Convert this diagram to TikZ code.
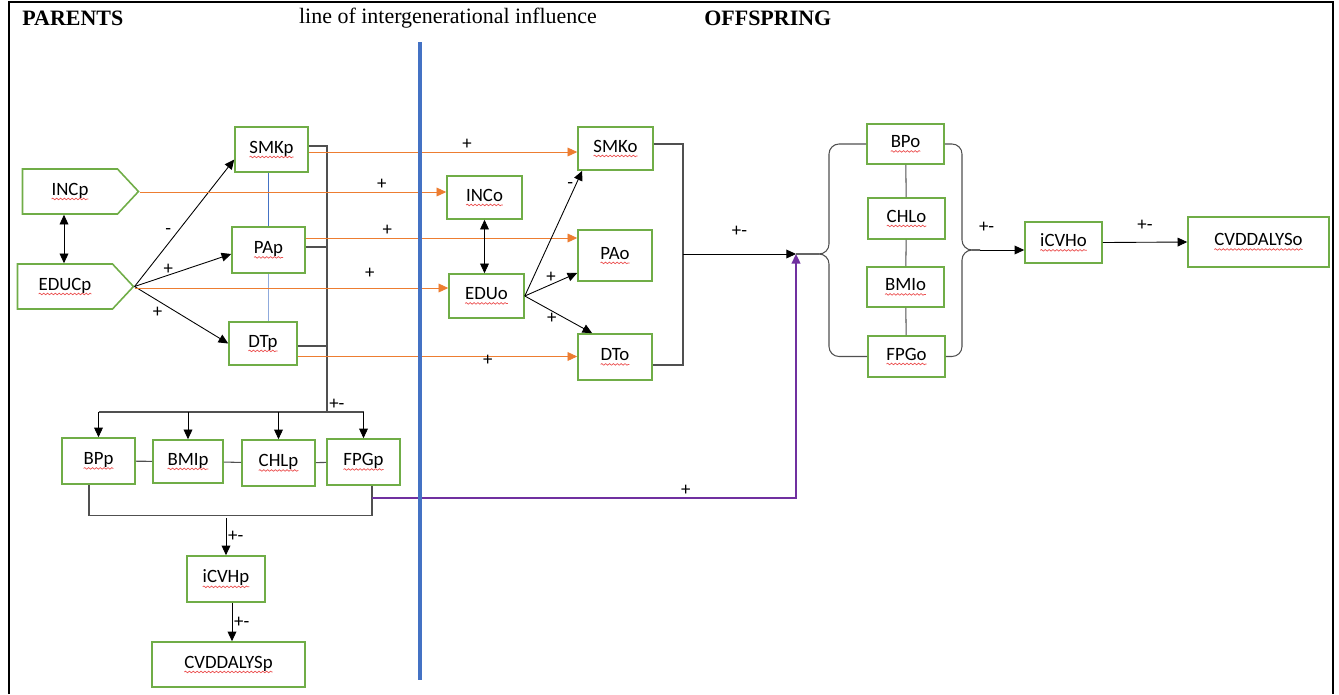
\documentclass[tikz,border=0pt]{standalone}
\usepackage{fontspec}
\setmainfont{Liberation Serif}
\newfontfamily\boxfont{Carlito}
\usepackage{tikz}
\usetikzlibrary{arrows.meta, shapes.symbols, decorations.pathmorphing}
\definecolor{boxgreen}{RGB}{112,173,71}
\definecolor{inflorange}{RGB}{237,125,49}
\definecolor{divblue}{RGB}{68,114,196}
\definecolor{tieblue}{RGB}{143,170,220}
\definecolor{pathpurple}{RGB}{112,48,160}
\definecolor{busgray}{RGB}{80,80,80}
\definecolor{spellred}{RGB}{235,80,80}

% red wavy underline under a box label
\newcommand{\wavy}[1]{\tikz[baseline=(w.base)]{\node[shape=rectangle, draw=none, fill=none, inner sep=0pt, outer sep=0pt, minimum width=0pt, minimum height=0pt] (w) {#1};\draw[spellred, line width=0.4pt, decorate, decoration={snake, amplitude=0.45pt, segment length=2.2pt}] ([yshift=-2.2pt]w.base west) -- ([yshift=-2.2pt]w.base east);}}

\begin{document}
\begin{tikzpicture}[
    x=0.02cm, y=-0.02cm,
    box/.style={draw=boxgreen, line width=0.9pt, font=\boxfont\fontsize{10.7}{12}\selectfont, inner sep=0pt, minimum width=1.46cm, minimum height=0.92cm},
    obox/.style={box, minimum width=1.54cm, minimum height=0.82cm},
    entry/.style={box, shape=signal, signal to=east, signal from=nowhere, signal pointer angle=94, minimum width=2.32cm, minimum height=0.9cm},
    arr/.style={-{Triangle[length=5.5pt, width=5pt]}, black, line width=0.5pt},
    dblarr/.style={{Triangle[length=5.5pt, width=5pt]}-{Triangle[length=5.5pt, width=5pt]}, black, line width=0.5pt},
    infl/.style={-{Triangle[length=5.5pt, width=5pt]}, inflorange, line width=0.5pt},
    purp/.style={-{Triangle[length=5.5pt, width=5pt]}, pathpurple, line width=1.1pt},
    bus/.style={busgray, line width=0.6pt},
    divider/.style={divblue, line width=2.3pt},
    sign/.style={font=\boxfont\fontsize{10.7}{12}\selectfont, inner sep=1pt, black},
    hdr/.style={font=\fontsize{12.5}{14}\selectfont, inner sep=0pt},
    hdrb/.style={font=\fontsize{12.5}{14}\selectfont\bfseries, inner sep=0pt}
]
    \useasboundingbox (0,0) rectangle (1339,694);
    \draw[line width=1.2pt] (9,694) |- (1333,2) -- (1333,694);

    \node[hdrb, anchor=west] (parents) at (22,18) {PARENTS};
    \node[hdr] (influence) at (448,18) {line of intergenerational influence};
    \node[hdrb, anchor=west] (offspring) at (704,18) {OFFSPRING};

    % parents
    \node[entry] (INCp) at (70,191.5) {\wavy{INCp}};
    \node[entry] (EDUCp) at (65,286.5) {\wavy{EDUCp}};
    \node[box, minimum height=0.9cm] (SMKp) at (271.5,149.5) {\wavy{SMKp}};
    \node[box] (PAp) at (268.5,250) {\wavy{PAp}};
    \node[box, minimum width=1.36cm, minimum height=0.86cm] (DTp) at (263,343.5) {\wavy{DTp}};
    \node[box] (BPp) at (98.5,461) {\wavy{BPp}};
    \node[box, minimum width=1.4cm, minimum height=0.86cm] (BMIp) at (188,461.5) {\wavy{BMIp}};
    \node[box] (CHLp) at (278.5,463) {\wavy{CHLp}};
    \node[box] (FPGp) at (363.5,462) {\wavy{FPGp}};
    \node[box, minimum width=1.56cm] (iCVHp) at (226,579) {\wavy{iCVHp}};
    \node[box, minimum width=3.06cm, minimum height=0.9cm] (CVDDALYSp) at (228.5,664.5) {\wavy{CVDDALYSp}};

    % offspring
    \node[box, minimum width=1.5cm, minimum height=0.86cm] (INCo) at (484.5,197.5) {\wavy{INCo}};
    \node[box, minimum width=1.5cm, minimum height=0.88cm] (EDUo) at (486.5,296) {\wavy{EDUo}};
    \node[box, minimum width=1.5cm, minimum height=0.86cm] (SMKo) at (615.5,148.5) {\wavy{SMKo}};
    \node[box, minimum width=1.48cm, minimum height=1.02cm] (PAo) at (615,255.5) {\wavy{PAo}};
    \node[box, minimum width=1.48cm] (DTo) at (615,357) {\wavy{DTo}};
    \node[obox, minimum height=0.8cm] (BPo) at (905.5,144) {\wavy{BPo}};
    \node[obox] (CHLo) at (906.5,218.5) {\wavy{CHLo}};
    \node[obox, minimum height=0.8cm] (BMIo) at (905.5,287) {\wavy{BMIo}};
    \node[obox] (FPGo) at (906.5,356.5) {\wavy{FPGo}};
    \node[obox] (iCVHo) at (1063.5,242.5) {\wavy{iCVHo}};
    \node[box, minimum width=2.82cm, minimum height=1cm] (CVDDALYSo) at (1258.5,242) {\wavy{CVDDALYSo}};

    \coordinate (pbus) at (327,412);
    \coordinate (pbrk) at (230,518);
    \coordinate (obus) at (683,254);
    \coordinate (ojoin) at (796,254);
    \coordinate (lbr) at (829,254);
    \coordinate (rbr) at (962,250);
    \coordinate (rtip) at (980,250);

    % parents links
    \draw[dblarr] ([xshift=-0.12cm]INCp.south) -- ([xshift=-0.12cm]INCp.south |- EDUCp.north);
    \draw[arr] (EDUCp.east) -- ([yshift=-0.2cm]SMKp.west) node[sign, pos=0.39, above left=0pt] {-};
    \draw[arr] (EDUCp.east) -- ([yshift=-0.08cm]PAp.west) node[sign, pos=0.35, above, inner sep=0pt] {+};
    \draw[arr] (EDUCp.east) -- (DTp.west) node[sign, pos=0.32, below left=0pt] {+};
    \draw[divblue, line width=0.5pt] (PAp.north) -- (PAp.north |- SMKp.south);
    \draw[tieblue, line width=0.5pt] (PAp.south) -- (PAp.south |- DTp.north);

    \draw[bus] ([yshift=0.07cm]SMKp.east) -| (pbus) node[sign, above right] {+-};
    \draw[bus] ([yshift=0.06cm]PAp.east) -- ([yshift=0.06cm]PAp.east -| pbus);
    \draw[bus] ([yshift=-0.05cm]DTp.east) -- ([yshift=-0.05cm]DTp.east -| pbus);
    \draw[bus] (BPp.north |- pbus) -- (FPGp.north |- pbus);
    \foreach \b in {BPp, BMIp, CHLp, FPGp}
        \draw[arr] (\b.north |- pbus) -- (\b.north);
    \draw[bus] (BPp) -- (BMIp) (BMIp) -- (CHLp) (CHLp) -- (FPGp);
    \draw[bus] ([xshift=-0.19cm]BPp.south) -- ++(0,31) -| ([xshift=0.17cm]FPGp.south);
    \draw[arr] (iCVHp.north |- pbrk) -- (iCVHp.north) node[sign, midway, right] {+-};
    \draw[arr] ([xshift=0.12cm]iCVHp.south) -- ([xshift=0.12cm]iCVHp.south |- CVDDALYSp.north) node[sign, midway, right] {+-};

    % across the generations
    \draw[infl] ([yshift=-0.05cm]SMKp.east) -- ([yshift=-0.05cm]SMKp.east -| SMKo.west) node[sign, pos=0.59, above] {+};
    \draw[infl] ([yshift=-0.01cm]INCp.east) -- ([yshift=-0.01cm]INCp.east -| INCo.west) node[sign, pos=0.79, above] {+};
    \draw[infl] ([yshift=0.24cm]PAp.east) -- ([yshift=0.24cm]PAp.east -| PAo.west) node[sign, pos=0.3, above] {+};
    \draw[infl] ([yshift=-0.03cm]EDUCp.east) -- ([yshift=-0.03cm]EDUCp.east -| EDUo.west) node[sign, pos=0.75, above=4pt] {+};
    \draw[infl] ([yshift=-0.26cm]DTp.east) -- ([yshift=-0.26cm]DTp.east -| DTo.west) node[sign, pos=0.68, yshift=-0.07cm] {+};
    \draw[purp] ([xshift=0.17cm, yshift=-0.24cm]FPGp.south) -| (ojoin) node[sign, pos=0.37, above=1pt, inner sep=0pt] {+};

    % offspring links
    \draw[dblarr] (INCo.south) -- (INCo.south |- EDUo.north);
    \draw[arr] (EDUo.east) -- ([xshift=0.1cm]SMKo.south west) node[sign, pos=0.88, left] {-};
    \draw[arr] (EDUo.east) -- ([yshift=-0.35cm]PAo.west) node[sign, pos=0.5, above] {+};
    \draw[arr] (EDUo.east) -- ([xshift=0.3cm]DTo.north west) node[sign, pos=0.4, below] {+};
    \draw[bus] ([yshift=0.09cm]SMKo.east) -| (obus) |- ([yshift=-0.16cm]DTo.east);
    \draw[arr] (obus) -- (ojoin) node[sign, midway, above=0.3cm] {+-};

    \draw[bus] (BPo) -- (CHLo) (CHLo) -- (BMIo) (BMIo) -- (FPGo);
    \draw[bus, rounded corners=0.2cm] (BPo.west) -| (lbr) -- (ojoin);
    \draw[bus, rounded corners=0.2cm] (FPGo.west) -| (lbr) -- (ojoin);
    \draw[bus, rounded corners=0.2cm] (BPo.east) -| (rbr) -- (rtip);
    \draw[bus, rounded corners=0.2cm] (FPGo.east) -| (rbr) -- (rtip);
    \draw[arr] (rtip) -- (rtip -| iCVHo.west) node[sign, pos=0.15, above=0.3cm] {+-};
    \draw[arr] (iCVHo.east) -- (CVDDALYSo.west) node[sign, midway, above=0.2cm] {+-};

    \draw[divider] (420,42) -- (420,680);
\end{tikzpicture}
\end{document}
